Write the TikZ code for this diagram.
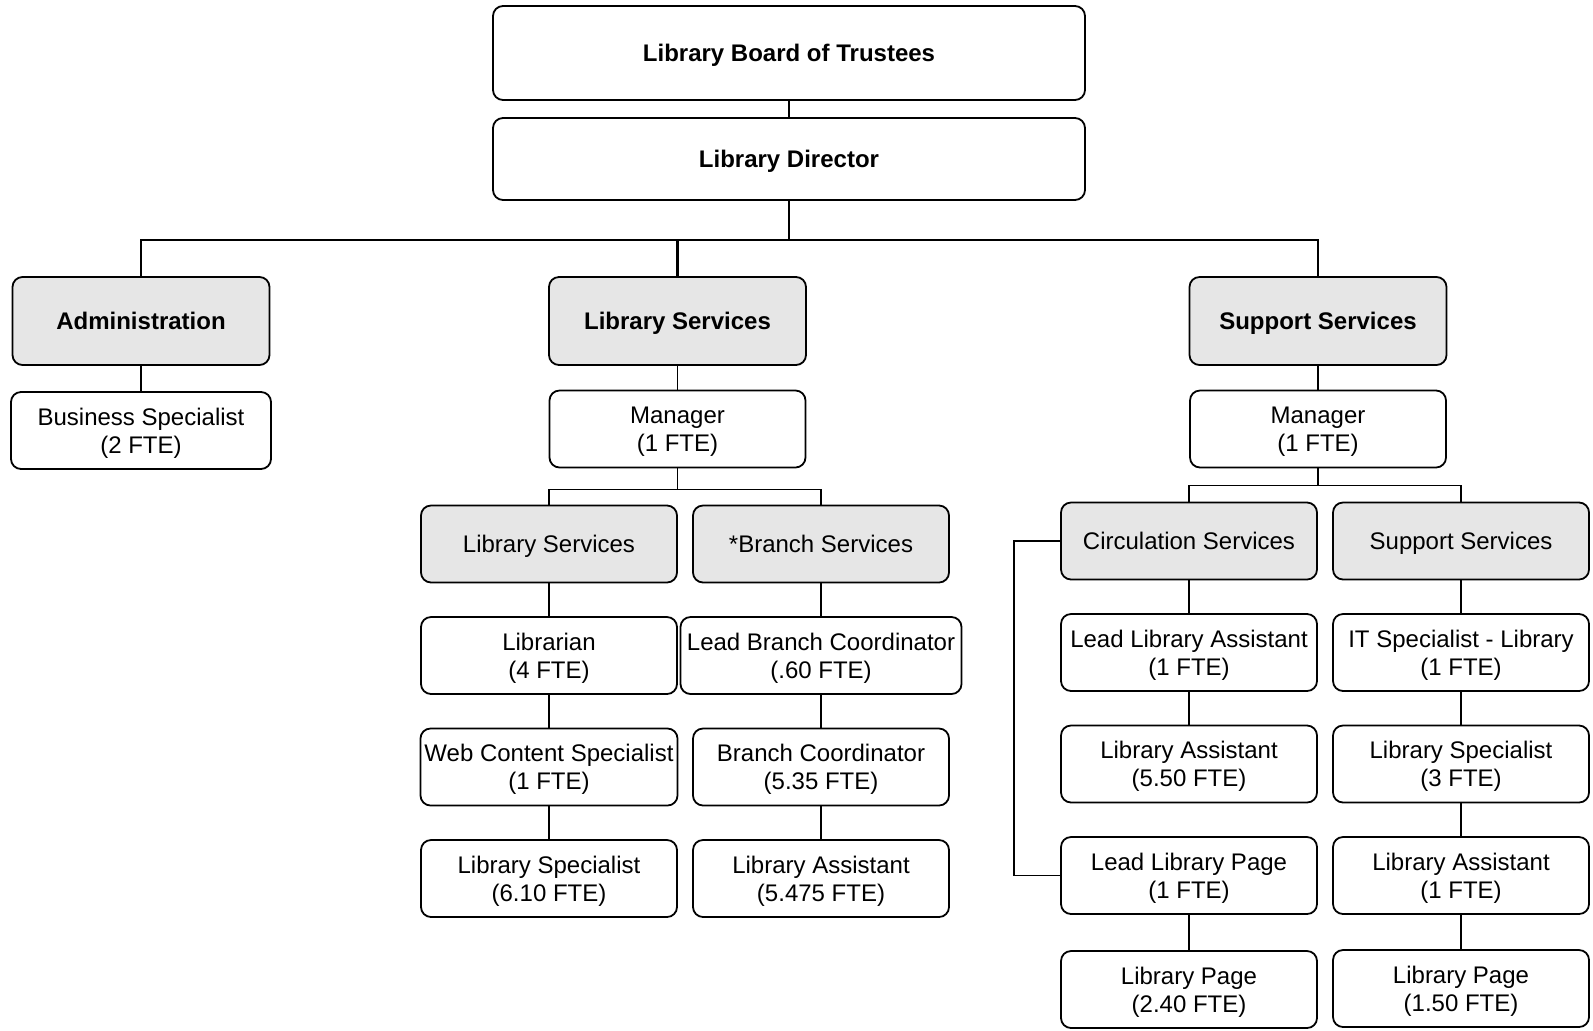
\documentclass[tikz,border=0pt]{standalone}
\usepackage{fontspec}
\setmainfont{Liberation Sans}
\usepackage{tikz}
\usetikzlibrary{positioning}
\definecolor{unitgray}{HTML}{E6E6E6}
\newcommand{\boxfont}{\fontsize{12}{14.2}\selectfont}
\tikzstyle{block} = [rectangle, draw, line width=0.9pt, font=\boxfont, align=center, rounded corners=5pt, minimum height=38.5pt, minimum width=128pt, inner sep=2pt, text depth=0pt]
\tikzstyle{unit} = [block, fill=unitgray]
\tikzstyle{dept} = [block, fill=unitgray, font=\boxfont\bfseries, minimum height=44pt, minimum width=128.5pt]
\tikzstyle{head} = [block, font=\boxfont\bfseries, minimum width=296pt]
\tikzstyle{line} = [draw, line width=0.7pt]
\tikzstyle{bus} = [draw, line width=1.3pt]

\begin{document}
\begin{tikzpicture}[x=0.5pt, y=-0.5pt, node distance=55.75pt]
            \useasboundingbox (0,0) rectangle (1593,1030);
            % Place nodes
            \node [head, minimum height=47pt] (board) at (789,53) {Library Board of Trustees};
            \node [head, minimum height=41pt, below of=board, node distance=53pt] (dir) {Library Director};
            \node [dept] (admin) at (141,321) {Administration};
            \node [dept] (libsvc) at (677.5,321) {Library Services};
            \node [dept] (supsvc) at (1318,321) {Support Services};
            \node [block, below of=admin, node distance=54.75pt, minimum width=130pt] (bizspec) {Business Specialist\\(2 FTE)};
            \node [block, below of=libsvc, node distance=54pt] (libmgr) {Manager\\(1 FTE)};
            \node [block, below of=supsvc, node distance=54pt] (supmgr) {Manager\\(1 FTE)};
            % Library services units
            \node [unit] (libsub) at (549,544) {Library Services};
            \node [unit] (branch) at (821,544) {*Branch Services};
            \node [block, below of=libsub] (librarian) {Librarian\\(4 FTE)};
            \node [block, below of=librarian] (webspec) {Web Content Specialist\\(1 FTE)};
            \node [block, below of=webspec] (libspec) {Library Specialist\\(6.10 FTE)};
            \node [block, below of=branch, minimum width=140.5pt] (leadbranch) {Lead Branch Coordinator\\(.60 FTE)};
            \node [block, below of=leadbranch] (branchco) {Branch Coordinator\\(5.35 FTE)};
            \node [block, below of=branchco] (branchasst) {Library Assistant\\(5.475 FTE)};
            % Support services units
            \node [unit] (circ) at (1189,541) {Circulation Services};
            \node [unit] (supsub) at (1461,541) {Support Services};
            \node [block, below of=circ] (leadasst) {Lead Library Assistant\\(1 FTE)};
            \node [block, below of=leadasst] (circasst) {Library Assistant\\(5.50 FTE)};
            \node [block, below of=circasst] (leadpage) {Lead Library Page\\(1 FTE)};
            \node [block, below of=leadpage, node distance=57pt] (circpage) {Library Page\\(2.40 FTE)};
            \node [block, below of=supsub] (itspec) {IT Specialist - Library\\(1 FTE)};
            \node [block, below of=itspec] (supspec) {Library Specialist\\(3 FTE)};
            \node [block, below of=supspec] (supasst) {Library Assistant\\(1 FTE)};
            \node [block, below of=supasst, node distance=56.5pt] (suppage) {Library Page\\(1.50 FTE)};
            % Draw edges
            \path [line] (board) -- (dir);
            \path [bus] (dir.south) -- ++(0,39) -| (admin.north);
            \path [bus] (dir.south) -- ++(0,39) -| (libsvc.north);
            \path [bus] (dir.south) -- ++(0,39) -| (supsvc.north);
            \path [line] (admin) -- (bizspec);
            \path [line] (libsvc) -- (libmgr);
            \path [line] (supsvc) -- (supmgr);
            \path [line] (libmgr.south) -- ++(0,21) -| (libsub.north);
            \path [line] (libmgr.south) -- ++(0,21) -| (branch.north);
            \path [line] (supmgr.south) -- ++(0,17) -| (circ.north);
            \path [line] (supmgr.south) -- ++(0,17) -| (supsub.north);
            \path [line] (libsub) -- (librarian);
            \path [line] (librarian) -- (webspec);
            \path [line] (webspec) -- (libspec);
            \path [line] (branch) -- (leadbranch);
            \path [line] (leadbranch) -- (branchco);
            \path [line] (branchco) -- (branchasst);
            \path [line] (circ) -- (leadasst);
            \path [line] (leadasst) -- (circasst);
            \path [line] (leadpage) -- (circpage);
            \path [line] (circ.west) -- ++(-46,0) |- (leadpage.west);
            \path [line] (supsub) -- (itspec);
            \path [line] (itspec) -- (supspec);
            \path [line] (supspec) -- (supasst);
            \path [line] (supasst) -- (suppage);
          \end{tikzpicture}
\end{document}
